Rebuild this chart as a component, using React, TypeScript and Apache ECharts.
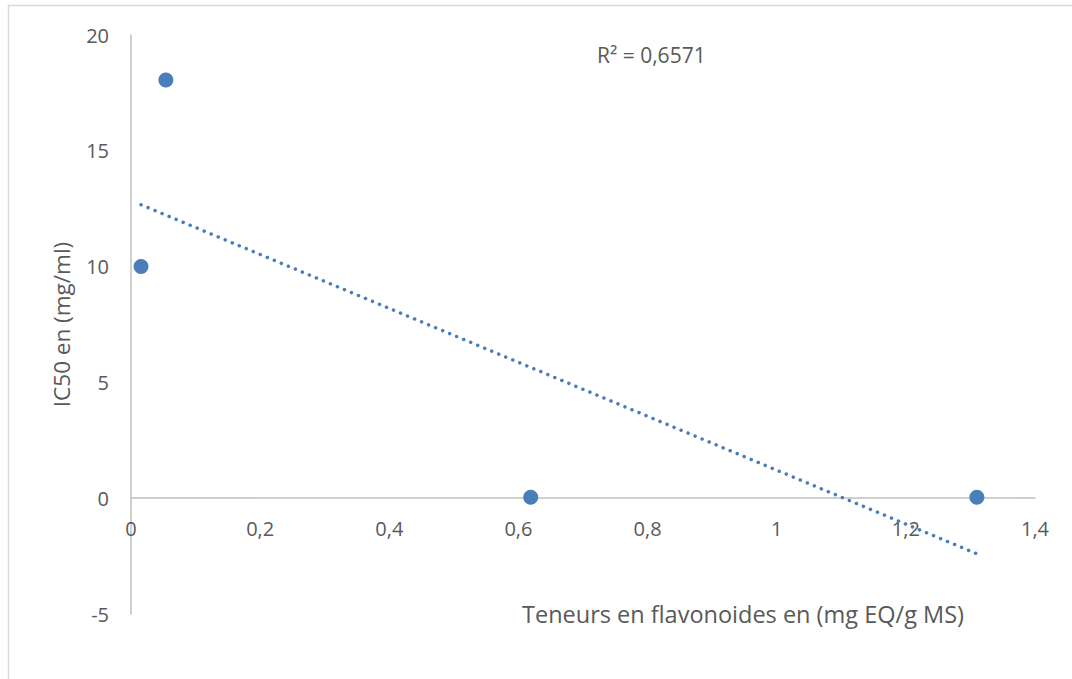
import React, { useEffect, useRef } from "react";
import * as echarts from "echarts";

const flavonoids = [0.0155, 0.054, 0.619, 1.31];
const ic50 = [10, 18.06, 0.04, 0.04];
const r2Label = "R² = 0,6571";
const xTitle = "Teneurs en flavonoides en (mg EQ/g MS)";
const yTitle = "IC50 en (mg/ml)";

function regression(xs: number[], ys: number[]) {
  const n = xs.length;
  const mx = xs.reduce((a, b) => a + b, 0) / n;
  const my = ys.reduce((a, b) => a + b, 0) / n;
  let sxy = 0, sxx = 0;
  for (let i = 0; i < n; i++) {
    sxy += (xs[i] - mx) * (ys[i] - my);
    sxx += (xs[i] - mx) ** 2;
  }
  const slope = sxy / sxx;
  return { slope, intercept: my - slope * mx };
}

export default function App() {
  const ref = useRef<HTMLDivElement>(null);
  useEffect(() => {
    if (!ref.current) return;
    const chart = echarts.init(ref.current, null, { renderer: "svg" });
    const { slope, intercept } = regression(flavonoids, ic50);
    const xmin = Math.min(...flavonoids);
    const xmax = Math.max(...flavonoids);
    const trend = [
      [xmin, intercept + slope * xmin],
      [xmax, intercept + slope * xmax],
    ];
    const font = "'Open Sans', sans-serif";
    const textColor = "#595959";
    const top = 35;
    const bottom = 65;
    const plotH = 679 - top - bottom;
    const yMin = -5;
    const yMax = 20;
    const zeroOffset = (plotH * (0 - yMin)) / (yMax - yMin);
    chart.setOption({
      animation: false,
      grid: { left: 131, right: 37, top, bottom },
      xAxis: {
        type: "value",
        min: 0,
        max: 1.4,
        interval: 0.2,
        offset: -zeroOffset,
        axisLine: { show: true, onZero: false, lineStyle: { color: "#bfbfbf", width: 1.5 } },
        axisTick: { show: false },
        splitLine: { show: false },
        axisLabel: {
          color: textColor,
          fontFamily: font,
          fontSize: 20,
          margin: 20,
          formatter: (v: number) => String(Math.round(v * 10) / 10).replace(".", ","),
        },
      },
      yAxis: {
        type: "value",
        min: yMin,
        max: yMax,
        interval: 5,
        name: yTitle,
        nameLocation: "middle",
        nameGap: 58,
        nameTextStyle: { color: textColor, fontFamily: font, fontSize: 22.5 },
        axisLine: { show: true, lineStyle: { color: "#bfbfbf", width: 1.5 } },
        axisTick: { show: false },
        splitLine: { show: false },
        axisLabel: { color: textColor, fontFamily: font, fontSize: 20, margin: 22 },
      },
      graphic: [
        {
          type: "rect",
          shape: { x: 8.5, y: 5.5, width: 1200, height: 800 },
          style: { fill: "none", stroke: "#d9d9d9", lineWidth: 1.5 },
          silent: true,
          z: -10,
        },
        {
          type: "text",
          x: 522,
          y: 614,
          style: {
            text: xTitle,
            fill: textColor,
            font: `23.5px ${font}`,
            textVerticalAlign: "middle",
          },
        },
        {
          type: "text",
          x: 597,
          y: 55,
          style: {
            text: r2Label,
            fill: textColor,
            font: `21px ${font}`,
            textVerticalAlign: "middle",
          },
        },
      ],
      series: [
        {
          type: "line",
          data: trend,
          showSymbol: false,
          symbol: "none",
          lineStyle: { color: "#4a7ebb", width: 3.5, type: [0.1, 7.5], cap: "round" },
          z: 2,
        },
        {
          type: "scatter",
          data: flavonoids.map((x, i) => [x, ic50[i]]),
          symbolSize: 15,
          itemStyle: { color: "#4a7ebb", opacity: 1 },
          z: 3,
        },
      ],
    });
    return () => chart.dispose();
  }, []);
  return (
    <div
      ref={ref}
      style={{ position: "fixed", left: 0, top: 0, width: 1072, height: 679, background: "#fff" }}
    />
  );
}
